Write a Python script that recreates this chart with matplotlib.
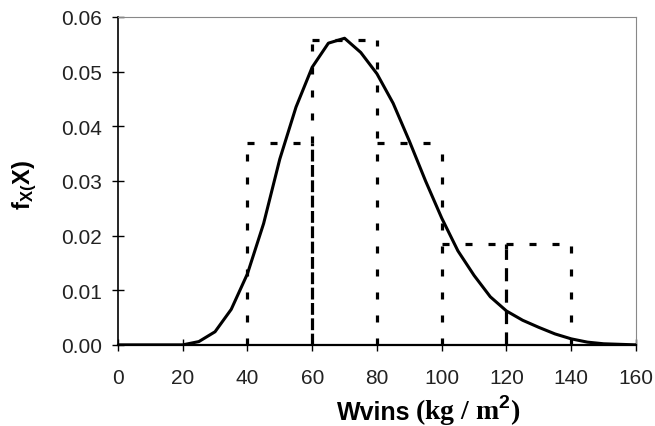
import matplotlib
matplotlib.use('agg')
import numpy as np
import matplotlib.pyplot as plt

plt.rcParams['font.family'] = ['Liberation Sans', 'DejaVu Sans']
plt.rcParams['mathtext.fontset'] = 'custom'
plt.rcParams['mathtext.rm'] = 'Liberation Sans'
plt.rcParams['mathtext.bf'] = 'Liberation Sans:bold'

# fitted density curve (5 kg/m2 steps)
curve_x = np.arange(0, 165, 5)
curve_y = [0, 0, 0, 0, 0, 0.0006, 0.0024, 0.0065, 0.013, 0.0222, 0.034,
           0.0435, 0.0508, 0.0552, 0.0561, 0.0535, 0.0496, 0.0442, 0.0373,
           0.030, 0.0232, 0.0172, 0.0127, 0.0088, 0.0062, 0.0045, 0.0032,
           0.002, 0.0011, 0.0005, 0.0002, 0.0001, 0]

# histogram of observations
bin_edges = [40, 60, 80, 100, 120, 140]
bin_height = [0.037, 0.0557, 0.037, 0.0185, 0.0185]

# edges drawn with longer dashes in the original (lower part only)
dashed_edge_x = [60, 120]
dashed_edge_top = [0.037, 0.0175]
dashed_edge_style = [(0, (3.7, 1.1)), (0, (4.1, 2.6))]

fig = plt.figure(figsize=(6.55, 4.27), dpi=100)
ax = fig.add_axes([0.180, 0.190, 0.791, 0.768])

dot = (0, (2.2, 5.0))
lw_hist = 2.3
# bar tops
for l, r, h in zip(bin_edges[:-1], bin_edges[1:], bin_height):
    ax.plot([l, r], [h, h], color='black', lw=lw_hist, linestyle=dot, zorder=2)
# bar sides
padded = [0] + bin_height + [0]
for i, x in enumerate(bin_edges):
    top = max(padded[i], padded[i + 1])
    bottom = 0
    if x in dashed_edge_x:
        k = dashed_edge_x.index(x)
        bottom = dashed_edge_top[k]
        ax.plot([x, x], [0, bottom], color='black', lw=lw_hist,
                linestyle=dashed_edge_style[k], zorder=2)
    ax.plot([x, x], [bottom, top], color='black', lw=lw_hist,
            linestyle=dot, zorder=2)

ax.plot(curve_x, curve_y, color='black', lw=2.2, zorder=3,
        solid_joinstyle='round')

ax.set_xlim(0, 160)
ax.set_ylim(0, 0.06)
ax.set_xticks(np.arange(0, 161, 20))
ax.set_yticks(np.arange(0, 0.061, 0.01))
ax.set_yticklabels(['%.2f' % v for v in np.arange(0, 0.061, 0.01)])
ax.tick_params(axis='both', direction='inout', length=9, width=1,
               labelsize=15, colors='black', labelcolor='#222222')
ax.tick_params(axis='x', pad=12)
ax.tick_params(axis='y', pad=7)

for side in ['top', 'right']:
    ax.spines[side].set_color('#888888')
    ax.spines[side].set_linewidth(0.8)
ax.spines['left'].set_linewidth(1.2)
ax.spines['bottom'].set_linewidth(1.6)

fig.text(25 / 655, 1 - 185 / 427, r'$\mathbf{f_{X(}X)}$', fontsize=17,
         rotation=90, ha='center', va='center')

fig.text(337 / 655, 1 - 420 / 427, 'Wvins', fontsize=18, fontweight='bold',
         ha='left', va='baseline')
fig.text(415 / 655, 1 - 420 / 427, r'(kg / m$^\mathbf{2}$)', fontsize=20,
         fontweight='bold', family='Liberation Serif', ha='left',
         va='baseline')

fig.savefig('out.png', dpi=100)
